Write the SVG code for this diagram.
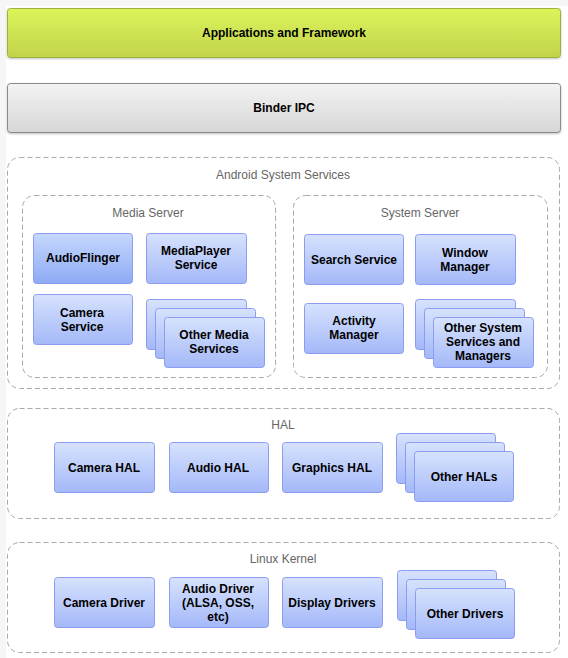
<svg xmlns="http://www.w3.org/2000/svg" width="568" height="658" viewBox="0 0 568 658">
<defs>
<linearGradient id="gGreen" x1="0" y1="0" x2="0" y2="1"><stop offset="0" stop-color="#dcf45a"/><stop offset="1" stop-color="#c2d34c"/></linearGradient>
<linearGradient id="gGrey" x1="0" y1="0" x2="0" y2="1"><stop offset="0" stop-color="#f3f3f3"/><stop offset="1" stop-color="#d6d6d6"/></linearGradient>
<linearGradient id="gBlue" x1="0" y1="0" x2="0" y2="1"><stop offset="0" stop-color="#d6e2fd"/><stop offset="1" stop-color="#a4b8f8"/></linearGradient>
<linearGradient id="gBlueDark" x1="0" y1="0" x2="0" y2="1"><stop offset="0" stop-color="#c6d8fd"/><stop offset="1" stop-color="#8eaaf4"/></linearGradient>
<filter id="sh" x="-5%" y="-5%" width="110%" height="130%"><feDropShadow dx="0" dy="1" stdDeviation="0.8" flood-color="#000" flood-opacity="0.25"/></filter>
</defs>
<style>
.grp{fill:none;stroke:#a9a9a9;stroke-width:1;stroke-dasharray:5,3}
.glbl{font-family:"Liberation Sans",Arial,sans-serif;font-size:12px;fill:#666;text-anchor:middle}
.box{fill:url(#gBlue);stroke:#8c9cf0;stroke-width:1}
.boxd{fill:url(#gBlueDark);stroke:#8c9cf0;stroke-width:1}
.t{font-family:"Liberation Sans",Arial,sans-serif;font-size:12px;font-weight:bold;fill:#000;text-anchor:middle}
</style>
<rect x="0" y="0" width="568" height="658" fill="#f6f6f6"/>
<rect x="6" y="6" width="562" height="652" fill="#ffffff"/>

<g id="apps">
<rect x="7.5" y="8.5" width="553" height="49" rx="3" fill="url(#gGreen)" stroke="#9fb03c" filter="url(#sh)"/>
<text class="t" x="284" y="37">Applications and Framework</text>
</g>
<g id="binder">
<rect x="7.5" y="83.5" width="553" height="49" rx="3" fill="url(#gGrey)" stroke="#8a8a8a" filter="url(#sh)"/>
<text class="t" x="284" y="112">Binder IPC</text>
</g>

<g id="android-system-services">
<rect class="grp" x="7.5" y="157.5" width="552" height="231" rx="12"/>
<text class="glbl" x="283" y="179">Android System Services</text>
</g>
<g id="media-server">
<rect class="grp" x="22.5" y="195.5" width="253" height="182" rx="12"/>
<text class="glbl" x="148" y="217">Media Server</text>
</g>
<g id="audioflinger">
<rect class="boxd" x="33.5" y="233.5" width="99" height="50" rx="3"/>
<text class="t" x="83" y="262">AudioFlinger</text>
</g>
<g id="mediaplayer">
<rect class="box" x="146.5" y="233.5" width="100" height="50" rx="3"/>
<text class="t" x="196" y="255">MediaPlayer</text>
<text class="t" x="196" y="269">Service</text>
</g>
<g id="camera-service">
<rect class="box" x="33.5" y="294.5" width="99" height="50" rx="3"/>
<text class="t" x="82" y="317">Camera</text>
<text class="t" x="82" y="331">Service</text>
</g>
<g id="other-media">
<rect class="box" x="146.5" y="299.5" width="100" height="50" rx="3"/>
<rect class="box" x="155.5" y="308.5" width="100" height="50" rx="3"/>
<rect class="box" x="164.5" y="317.5" width="100" height="50" rx="3"/>
<text class="t" x="214" y="339">Other Media</text>
<text class="t" x="214" y="353">Services</text>
</g>

<g id="system-server">
<rect class="grp" x="293.5" y="195.5" width="254" height="182" rx="12"/>
<text class="glbl" x="420" y="217">System Server</text>
</g>
<g id="search-service">
<rect class="box" x="304.5" y="234.5" width="99" height="50" rx="3"/>
<text class="t" x="354" y="264">Search Service</text>
</g>
<g id="window-manager">
<rect class="box" x="415.5" y="234.5" width="100" height="50" rx="3"/>
<text class="t" x="465" y="257">Window</text>
<text class="t" x="465" y="271">Manager</text>
</g>
<g id="activity-manager">
<rect class="box" x="304.5" y="303.5" width="99" height="50" rx="3"/>
<text class="t" x="354" y="325">Activity</text>
<text class="t" x="354" y="339">Manager</text>
</g>
<g id="other-system">
<rect class="box" x="415.5" y="299.5" width="100" height="50" rx="3"/>
<rect class="box" x="424.5" y="308.5" width="100" height="50" rx="3"/>
<rect class="box" x="433.5" y="317.5" width="100" height="50" rx="3"/>
<text class="t" x="483" y="332">Other System</text>
<text class="t" x="483" y="346">Services and</text>
<text class="t" x="483" y="360">Managers</text>
</g>

<g id="hal">
<rect class="grp" x="7.5" y="408.5" width="552" height="110" rx="12"/>
<text class="glbl" x="283" y="429">HAL</text>
</g>
<g id="camera-hal">
<rect class="box" x="54.5" y="442.5" width="100" height="50" rx="3"/>
<text class="t" x="104" y="472">Camera HAL</text>
</g>
<g id="audio-hal">
<rect class="box" x="169.5" y="442.5" width="99" height="50" rx="3"/>
<text class="t" x="218" y="472">Audio HAL</text>
</g>
<g id="graphics-hal">
<rect class="box" x="282.5" y="442.5" width="100" height="50" rx="3"/>
<text class="t" x="332" y="472">Graphics HAL</text>
</g>
<g id="other-hals">
<rect class="box" x="396.5" y="433.5" width="99" height="50" rx="3"/>
<rect class="box" x="405.5" y="442.5" width="99" height="50" rx="3"/>
<rect class="box" x="414.5" y="451.5" width="99" height="50" rx="3"/>
<text class="t" x="464" y="481">Other HALs</text>
</g>

<g id="linux-kernel">
<rect class="grp" x="7.5" y="542.5" width="552" height="110" rx="12"/>
<text class="glbl" x="283" y="563">Linux Kernel</text>
</g>
<g id="camera-driver">
<rect class="box" x="54.5" y="577.5" width="100" height="50" rx="3"/>
<text class="t" x="104" y="607">Camera Driver</text>
</g>
<g id="audio-driver">
<rect class="box" x="169.5" y="577.5" width="99" height="50" rx="3"/>
<text class="t" x="218" y="593">Audio Driver</text>
<text class="t" x="218" y="607">(ALSA, OSS,</text>
<text class="t" x="218" y="621">etc)</text>
</g>
<g id="display-drivers">
<rect class="box" x="282.5" y="577.5" width="100" height="50" rx="3"/>
<text class="t" x="332" y="607">Display Drivers</text>
</g>
<g id="other-drivers">
<rect class="box" x="397.5" y="570.5" width="99" height="50" rx="3"/>
<rect class="box" x="406.5" y="579.5" width="99" height="50" rx="3"/>
<rect class="box" x="415.5" y="588.5" width="99" height="50" rx="3"/>
<text class="t" x="465" y="618">Other Drivers</text>
</g>

<g id="connectors"></g>
</svg>
